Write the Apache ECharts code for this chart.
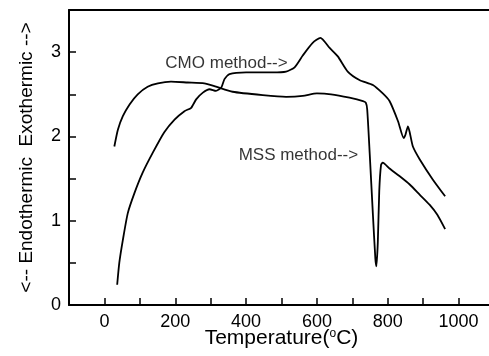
<!DOCTYPE html>
<html>
<head>
<meta charset="utf-8">
<script src="https://cdn.jsdelivr.net/npm/echarts@6/dist/echarts.min.js"></script>
<style>
html,body{margin:0;padding:0;background:#fff;overflow:hidden;}
#c{width:489px;height:356px;}
</style>
</head>
<body>
<div id="c"></div>
<script>
// MSS method curve
const mssTemp = [28,38,52,71,94,122,151,188,235,282,315,362,447,513,560,600,640,692,730,738,742,749,758,765,768,772,776,781,786,805,833,862,890,918,940,962];
const mssValue = [1.88,2.08,2.24,2.38,2.50,2.59,2.63,2.65,2.64,2.63,2.59,2.53,2.49,2.47,2.48,2.51,2.50,2.46,2.42,2.40,2.32,1.80,1.08,0.55,0.46,0.75,1.35,1.66,1.69,1.62,1.53,1.43,1.31,1.19,1.07,0.90];
// CMO method curve
const cmoTemp = [36,42,52,66,85,108,137,169,198,226,245,259,278,297,315,330,339,353,400,475,513,537,560,588,610,636,659,687,720,758,786,805,829,845,850,857,862,871,890,927,962];
const cmoValue = [0.24,0.50,0.77,1.09,1.33,1.57,1.81,2.05,2.20,2.30,2.34,2.44,2.52,2.56,2.54,2.58,2.68,2.74,2.76,2.76,2.77,2.82,2.96,3.11,3.17,3.05,2.95,2.77,2.67,2.61,2.51,2.42,2.18,1.98,2.02,2.12,2.05,1.88,1.73,1.49,1.29];
// annotations
const noteText = ['CMO method-->','MSS method-->'];
const noteTemp = [172, 379];
const noteValue = [2.87, 1.78];
// ticks and tick labels
const xTicks = [0,100,200,300,400,500,600,700,800,900,1000];
const xLabels = [0,200,400,600,800,1000];
const yTicks = [0,0.5,1,1.5,2,2.5,3];
const yLabels = [0,1,2,3];

const FONT = 'Liberation Sans, Arial, sans-serif';
const chart = echarts.init(document.getElementById('c'), null, {renderer:'canvas'});
const zip = (a,b)=>a.map((v,i)=>[v,b[i]]);

const option = {
  animation:false,
  backgroundColor:'#fff',
  grid:{left:69, top:10, right:-5, bottom:51, show:false, containLabel:false, outerBoundsMode:'none'},
  xAxis:[{
    type:'value', min:-100, max:1100, position:'bottom',
    name:'Temperature({s|o}C)', nameLocation:'middle', nameGap:23, nameMoveOverlap:false,
    nameTextStyle:{color:'#000', fontSize:21, fontFamily:FONT,
      rich:{s:{fontSize:12, verticalAlign:'top', color:'#000', fontFamily:FONT, padding:[0,0,9,0]}}},
    axisLine:{show:true, onZero:false, lineStyle:{color:'#000', width:2}},
    axisTick:{show:true, inside:true, length:7, lineStyle:{color:'#000', width:1.5}, customValues:xTicks},
    axisLabel:{color:'#000', fontSize:18, fontFamily:FONT, margin:8, customValues:xLabels, formatter:v=>String(v), hideOverlap:false},
    splitLine:{show:false}
  },{
    type:'value', min:-100, max:1100, position:'top',
    axisLine:{show:true, onZero:false, lineStyle:{color:'#000', width:2}},
    axisTick:{show:false}, axisLabel:{show:false}, splitLine:{show:false}
  }],
  yAxis:[{
    type:'value', min:0, max:3.5, position:'left',
    name:'<-- Endothermic  Exothermic -->', nameLocation:'middle', nameGap:33, nameRotate:90, nameMoveOverlap:false,
    nameTextStyle:{color:'#000', fontSize:19, fontFamily:FONT},
    axisLine:{show:true, onZero:false, lineStyle:{color:'#000', width:2}},
    axisTick:{show:true, inside:true, length:7, lineStyle:{color:'#000', width:1.5}, customValues:yTicks},
    axisLabel:{color:'#000', fontSize:18, fontFamily:FONT, margin:8, customValues:yLabels, formatter:v=>String(v)},
    splitLine:{show:false}
  }],
  series:[{
    name:'MSS method', type:'line', data:zip(mssTemp, mssValue), showSymbol:false, smooth:0.2,
    lineStyle:{color:'#000', width:1.8}
  },{
    name:'CMO method', type:'line', data:zip(cmoTemp, cmoValue), showSymbol:false, smooth:0.2,
    lineStyle:{color:'#000', width:1.8}
  },{
    name:'notes', type:'scatter', symbolSize:0,
    data:noteText.map((t,i)=>({value:[noteTemp[i], noteValue[i]], name:t})),
    label:{show:true, position:'right', distance:0, formatter:p=>p.name, color:'#000', fontSize:17, fontFamily:FONT},
    silent:true
  }]
};
chart.setOption(option);
</script>
</body>
</html>
